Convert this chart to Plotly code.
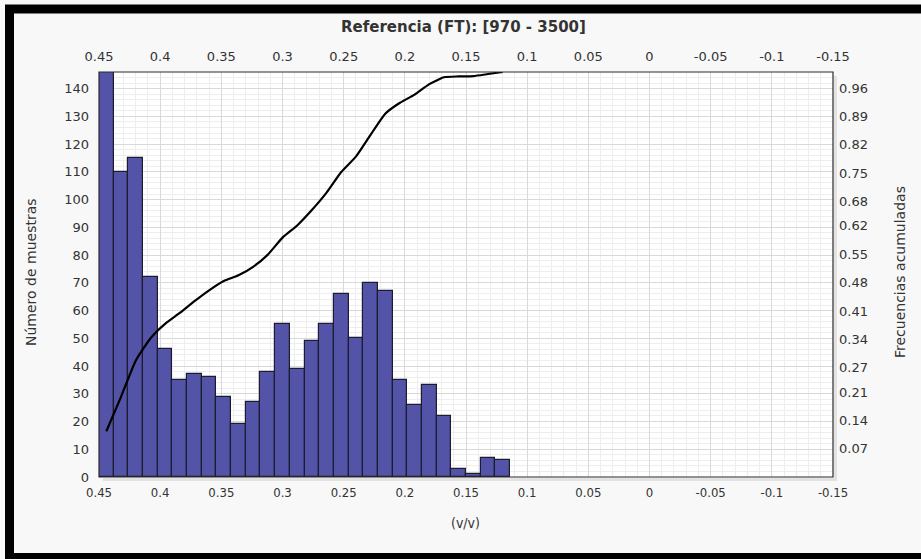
import plotly.graph_objects as go

# ---- data ----
bin_centers = [0.444, 0.432, 0.420, 0.408, 0.396, 0.384, 0.372, 0.360, 0.348, 0.336,
               0.324, 0.312, 0.300, 0.288, 0.276, 0.264, 0.252, 0.240, 0.228, 0.216,
               0.204, 0.192, 0.180, 0.168, 0.156, 0.144, 0.132, 0.120]
counts = [146, 110, 115, 72, 46, 35, 37, 36, 29, 19,
          27, 38, 55, 39, 49, 55, 66, 50, 70, 67,
          35, 26, 33, 22, 3, 1, 7, 6]
cum_freq = [0.113, 0.198, 0.287, 0.342, 0.378, 0.405, 0.434, 0.461, 0.484, 0.498,
            0.519, 0.549, 0.591, 0.621, 0.659, 0.702, 0.753, 0.791, 0.845, 0.897,
            0.924, 0.944, 0.970, 0.987, 0.989, 0.990, 0.995, 1.000]
bin_width = 0.012
x_ticks = [0.45, 0.4, 0.35, 0.3, 0.25, 0.2, 0.15, 0.1, 0.05, 0, -0.05, -0.1, -0.15]
x_tick_text = ["0.45", "0.4", "0.35", "0.3", "0.25", "0.2", "0.15", "0.1", "0.05", "0",
               "-0.05", "-0.1", "-0.15"]
y_ticks = [0, 10, 20, 30, 40, 50, 60, 70, 80, 90, 100, 110, 120, 130, 140]
y2_ticks = [0.07, 0.14, 0.21, 0.27, 0.34, 0.41, 0.48, 0.55, 0.62, 0.68, 0.75, 0.82, 0.89, 0.96]
y2_tick_text = ["0.07", "0.14", "0.21", "0.27", "0.34", "0.41", "0.48", "0.55", "0.62",
                "0.68", "0.75", "0.82", "0.89", "0.96"]

title_text = "<b>Referencia (FT): [970 - 3500]</b>"
x_title = "(v/v)"
y_title = "Número de muestras"
y2_title = "Frecuencias acumuladas"

FONT = "Verdana, DejaVu Sans, sans-serif"
NARROW = "DejaVu Sans Condensed, Liberation Sans Narrow, Arial Narrow, sans-serif"
TXT = "#333333"

W, H = 921, 559
L, R, T, B = 99, 88, 72, 82
PW, PH = W - L - R, H - T - B


def px_x(p):
    return (p - L) / PW


def px_y(p):
    return (H - B - p) / PH


fig = go.Figure()
fig.add_trace(go.Bar(
    x=bin_centers, y=counts, width=bin_width,
    marker=dict(color="#5353a8", line=dict(color="#1c1c30", width=1.2)),
    xaxis="x", yaxis="y", showlegend=False, hoverinfo="x+y"))
fig.add_trace(go.Scatter(
    x=bin_centers, y=cum_freq, mode="lines",
    line=dict(color="black", width=2.2, shape="spline", smoothing=0.5),
    xaxis="x2", yaxis="y2", showlegend=False))

grid_major = "#d9d9d9"
grid_minor = "#eeeeee"

fig.update_layout(
    width=W, height=H,
    margin=dict(l=L, r=R, t=T, b=B, pad=0),
    paper_bgcolor="#f8f8f8",
    plot_bgcolor="white",
    bargap=0,
    font=dict(family=FONT, size=13, color=TXT),
    xaxis=dict(
        range=[0.45, -0.15], tickvals=x_ticks, ticktext=x_tick_text,
        showgrid=True, gridcolor=grid_major, gridwidth=1,
        minor=dict(dtick=0.01, tick0=0, showgrid=True, gridcolor=grid_minor, gridwidth=1),
        zeroline=False, showline=False, ticks="",
        tickfont=dict(family=NARROW, size=13, color=TXT),
        ticklabelstandoff=6,
    ),
    xaxis2=dict(
        range=[0.45, -0.15], overlaying="x", side="top", anchor="y2",
        tickvals=x_ticks, ticktext=x_tick_text,
        showgrid=False, zeroline=False, showline=False, ticks="",
        tickfont=dict(family=FONT, size=13, color=TXT),
        ticklabelstandoff=7,
    ),
    yaxis=dict(
        range=[0, 146], tickvals=y_ticks,
        showgrid=True, gridcolor=grid_major, gridwidth=1,
        minor=dict(dtick=2, tick0=0, showgrid=True, gridcolor=grid_minor, gridwidth=1),
        zeroline=False, showline=False, ticks="",
        tickfont=dict(family=FONT, size=13, color=TXT),
        ticklabelstandoff=9,
    ),
    yaxis2=dict(
        range=[0, 1], overlaying="y", side="right", anchor="x",
        tickvals=y2_ticks, ticktext=y2_tick_text,
        showgrid=False, zeroline=False, showline=False, ticks="",
        tickfont=dict(family=FONT, size=13, color=TXT),
        ticklabelstandoff=5,
    ),
    shapes=[
        # plot-area border
        dict(type="rect", xref="paper", yref="paper", x0=0, x1=1, y0=0, y1=1,
             line=dict(color="#2a2a2a", width=1.2), fillcolor="rgba(0,0,0,0)", layer="above"),
        # soft shadow right/bottom
        dict(type="rect", xref="paper", yref="paper", x0=1 + 1 / PW, x1=1 + 4 / PW,
             y0=-4 / PH, y1=1 - 4 / PH, line=dict(width=0), fillcolor="#e2e2e2"),
        dict(type="rect", xref="paper", yref="paper", x0=4 / PW, x1=1 + 4 / PW,
             y0=-4 / PH, y1=-1 / PH, line=dict(width=0), fillcolor="#e2e2e2"),
        # outer black frame
        dict(type="rect", xref="paper", yref="paper",
             x0=px_x(9.5), x1=px_x(935), y0=px_y(557.5), y1=px_y(9),
             line=dict(color="black", width=9), fillcolor="rgba(0,0,0,0)", layer="above"),
    ],
    annotations=[
        dict(text=title_text, xref="paper", yref="paper", x=px_x(463), y=px_y(27),
             xanchor="center", yanchor="middle", showarrow=False,
             font=dict(family=FONT, size=15, color=TXT)),
        dict(text=x_title, xref="paper", yref="paper", x=px_x(465), y=px_y(523),
             xanchor="center", yanchor="middle", showarrow=False,
             font=dict(family=NARROW, size=14, color=TXT)),
        dict(text=y_title, xref="paper", yref="paper", x=px_x(31), y=px_y(272),
             xanchor="center", yanchor="middle", showarrow=False, textangle=-90,
             font=dict(family=FONT, size=14, color=TXT)),
        dict(text=y2_title, xref="paper", yref="paper", x=px_x(900), y=px_y(272),
             xanchor="center", yanchor="middle", showarrow=False, textangle=-90,
             font=dict(family=FONT, size=14, color=TXT)),
    ],
)

fig.write_html(
    "out.html",
    config={"displayModeBar": False},
    post_script="document.body.style.margin='0';document.body.style.padding='0';"
                "document.documentElement.style.overflow='hidden';",
)
